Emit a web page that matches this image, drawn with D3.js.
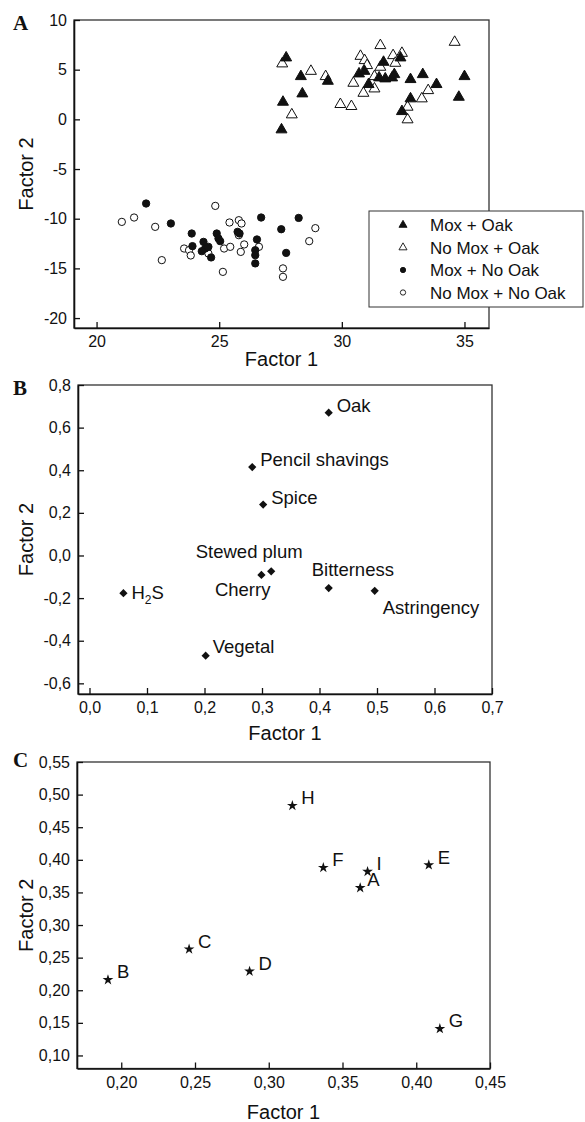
<!DOCTYPE html>
<html>
<head>
<meta charset="utf-8">
<script src="https://cdn.jsdelivr.net/npm/d3@7"></script>
<style>
body { margin: 0; background: #fff; }
svg text { font-family: "Liberation Sans", Arial, sans-serif; fill: #111; }
</style>
</head>
<body>
<svg id="chart" width="585" height="1122"></svg>
<script>
// panel A : factor scores, four treatments
var moxOak = [[27.73,6.2],[28.33,4.32],[28.39,2.58],[27.6,1.74],[27.54,-1.04],[29.43,3.85],[30.7,4.59],[30.92,4.85],
	[31.09,3.52],[31.7,5.76],[31.52,4.19],[31.77,4.09],[32.05,4.19],[32.14,4.52],[32.39,6.2],[32.8,4.02],[33.3,4.52],
	[33.86,3.52],[35.0,4.32],[34.77,2.24],[32.8,2.08],[32.45,0.8]];
var noMoxOak = [[27.57,5.6],[27.96,0.47],[28.74,4.85],[29.34,4.32],[29.94,1.51],[30.39,1.31],[30.47,3.65],[30.76,6.36],
	[30.93,5.93],[31.03,5.43],[30.88,2.64],[31.33,3.08],[31.33,4.32],[31.57,7.44],[31.57,5.26],[32.09,6.43],[32.18,5.66],
	[32.45,6.66],[32.68,1.24],[32.68,-0.03],[33.26,2.08],[33.52,2.91],[34.6,7.77]];
var moxNoOak = [[22.02,-8.47],[23.03,-10.48],[23.88,-11.49],[23.91,-12.76],[24.36,-12.33],[24.43,-13.0],[24.29,-13.27],
	[24.56,-12.83],[24.67,-13.9],[24.9,-11.49],[24.97,-11.99],[25.04,-12.26],[25.75,-11.32],[25.83,-11.49],[26.54,-12.09],
	[26.47,-13.17],[26.47,-13.67],[26.47,-14.5],[26.71,-9.88],[27.53,-11.06],[27.73,-13.44],[28.24,-9.92]];
var noMoxNoOak = [[21.03,-10.32],[21.53,-9.88],[22.39,-10.82],[22.66,-14.17],[23.57,-13.0],[23.77,-13.17],[23.84,-13.7],
	[24.56,-13.5],[24.84,-8.71],[25.15,-15.35],[25.2,-13.0],[25.45,-12.83],[25.42,-10.38],[25.8,-10.15],[25.91,-10.48],
	[25.8,-11.66],[25.88,-13.34],[26.02,-12.59],[26.62,-12.83],[27.6,-15.0],[27.6,-15.85],[28.92,-10.95],[28.67,-12.26]];
var treatmentNames = ["Mox + Oak", "No Mox + Oak", "Mox + No Oak", "No Mox + No Oak"];
var ticksAX = [20, 25, 30, 35];
var ticksAY = [-20, -15, -10, -5, 0, 5, 10];

// panel B : sensory attributes
var attrNames = ["Oak", "Pencil shavings", "Spice", "Stewed plum", "Cherry", "H2S", "Vegetal", "Bitterness", "Astringency"];
var attrF1 = [0.416, 0.283, 0.302, 0.316, 0.299, 0.059, 0.202, 0.416, 0.496];
var attrF2 = [0.67, 0.415, 0.239, -0.074, -0.091, -0.177, -0.47, -0.153, -0.166];
var ticksBX = [0, 0.1, 0.2, 0.3, 0.4, 0.5, 0.6, 0.7];
var ticksBY = [-0.6, -0.4, -0.2, 0, 0.2, 0.4, 0.6, 0.8];

// panel C : wines
var wineNames = ["A", "B", "C", "D", "E", "F", "G", "H", "I"];
var wineF1 = [0.362, 0.191, 0.246, 0.287, 0.4085, 0.337, 0.416, 0.316, 0.367];
var wineF2 = [0.357, 0.216, 0.263, 0.229, 0.392, 0.388, 0.141, 0.483, 0.382];
var ticksCX = [0.20, 0.25, 0.30, 0.35, 0.40, 0.45];
var ticksCY = [0.10, 0.15, 0.20, 0.25, 0.30, 0.35, 0.40, 0.45, 0.50, 0.55];

// label placement for panel B (dx, dy from the point, anchor)
var attrLabelPos = [[8,-1,"start"],[8,-1,"start"],[8,-1,"start"],[-22,-13,"middle"],[9,21,"end"],
	[8,6,"start"],[7,-3,"start"],[-17,-12,"start"],[8,23,"start"]];

var svg = d3.select("#chart");
var loc = d3.formatLocale({decimal: ",", thousands: ".", grouping: [3], currency: ["", ""], minus: "-"});

function makePanel(box, xDom, yDom) {
	var x = d3.scaleLinear().domain(xDom).range([box.left, box.right]);
	var y = d3.scaleLinear().domain(yDom).range([box.bottom, box.top]);
	var g = svg.append("g");
	g.append("rect")
		.attr("x", box.left).attr("y", box.top)
		.attr("width", box.right - box.left).attr("height", box.bottom - box.top)
		.attr("fill", "none").attr("stroke", "#333").attr("stroke-width", 1.3);
	return {g: g, x: x, y: y, box: box};
}

function drawAxes(p, xMajor, xMinor, yMajor, yMinor, xFmt, yFmt) {
	var gx = p.g.append("g").attr("transform", "translate(0," + p.box.bottom + ")");
	gx.call(d3.axisBottom(p.x).tickValues(xMinor).tickFormat("").tickSize(-3).tickSizeOuter(0));
	gx.call(d3.axisBottom(p.x).tickValues(xMajor).tickFormat(xFmt).tickSizeInner(-6).tickSizeOuter(0).tickPadding(8));
	var gy = p.g.append("g").attr("transform", "translate(" + p.box.left + ",0)");
	gy.call(d3.axisLeft(p.y).tickValues(yMinor).tickFormat("").tickSize(-3).tickSizeOuter(0));
	gy.call(d3.axisLeft(p.y).tickValues(yMajor).tickFormat(yFmt).tickSizeInner(-6).tickSizeOuter(0).tickPadding(7));
	p.g.selectAll(".domain").attr("stroke", "#111").attr("stroke-width", 1.6);
	p.g.selectAll(".tick line").attr("stroke", "#111").attr("stroke-width", 1.3);
	p.g.selectAll(".tick text").attr("font-size", 16).attr("fill", "#111")
		.style("font-family", "'Liberation Sans', Arial, sans-serif");
}

function titles(p, letter, letterY, titleGap) {
	var b = p.box;
	svg.append("text").attr("x", (b.left + b.right) / 2).attr("y", b.bottom + titleGap)
		.attr("text-anchor", "middle").attr("font-size", 20).text("Factor 1");
	svg.append("text").attr("transform", "translate(33," + ((b.top + b.bottom) / 2) + ") rotate(-90)")
		.attr("text-anchor", "middle").attr("font-size", 20).text("Factor 2");
	svg.append("text").attr("x", 13).attr("y", letterY)
		.attr("font-size", 21).attr("font-weight", "bold")
		.style("font-family", "'Liberation Serif', 'Times New Roman', serif").text(letter);
}

// ---------- panel A
var pA = makePanel({left: 74, right: 489, top: 20, bottom: 328}, [19.08, 36], [-21, 10]);
drawAxes(pA, ticksAX, d3.range(22.5, 36, 5), ticksAY, d3.range(-17.5, 10, 5), loc.format("d"), loc.format("d"));
titles(pA, "A", 30, 38);

var tri = d3.symbol().type(d3.symbolTriangle).size(52);
var cir = d3.symbol().type(d3.symbolCircle).size(42);
var seriesA = [
	{data: noMoxNoOak, sym: cir, fill: "#fff"},
	{data: moxNoOak, sym: cir, fill: "#111"},
	{data: noMoxOak, sym: tri, fill: "#fff"},
	{data: moxOak, sym: tri, fill: "#111"}
];
seriesA.forEach(function (s) {
	pA.g.selectAll(null).data(s.data).enter().append("path")
		.attr("d", s.sym)
		.attr("transform", function (d) { return "translate(" + pA.x(d[0]) + "," + pA.y(d[1]) + ")"; })
		.attr("fill", s.fill).attr("stroke", "#111").attr("stroke-width", 1);
});

// legend
var leg = svg.append("g");
leg.append("rect").attr("x", 369).attr("y", 211).attr("width", 214).attr("height", 96)
	.attr("fill", "#fff").attr("stroke", "#333").attr("stroke-width", 1);
var legSyms = [
	{sym: d3.symbol().type(d3.symbolTriangle).size(28), fill: "#111"},
	{sym: d3.symbol().type(d3.symbolTriangle).size(28), fill: "#fff"},
	{sym: d3.symbol().type(d3.symbolCircle).size(22), fill: "#111"},
	{sym: d3.symbol().type(d3.symbolCircle).size(22), fill: "#fff"}
];
treatmentNames.forEach(function (name, i) {
	var yy = 225 + i * 22.5;
	leg.append("path").attr("d", legSyms[i].sym).attr("transform", "translate(403," + yy + ")")
		.attr("fill", legSyms[i].fill).attr("stroke", "#111").attr("stroke-width", 0.9);
	leg.append("text").attr("x", 430).attr("y", yy + 6).attr("font-size", 17).text(name);
});

// ---------- panel B
var pB = makePanel({left: 78, right: 492, top: 385, bottom: 694}, [-0.02, 0.7], [-0.65, 0.8]);
drawAxes(pB, ticksBX, d3.range(0.05, 0.7, 0.1), ticksBY, d3.range(-0.5, 0.8, 0.2), loc.format(".1f"), loc.format(".1f"));
titles(pB, "B", 395, 46);

var dia = d3.symbol().type(d3.symbolSquare).size(34);
attrNames.forEach(function (name, i) {
	var px = pB.x(attrF1[i]), py = pB.y(attrF2[i]);
	pB.g.append("path").attr("d", dia).attr("transform", "translate(" + px + "," + py + ") rotate(45)").attr("fill", "#111");
	var lp = attrLabelPos[i];
	var t = pB.g.append("text").attr("x", px + lp[0]).attr("y", py + lp[1])
		.attr("text-anchor", lp[2]).attr("font-size", 18.5);
	if (name == "H2S") {
		t.append("tspan").text("H");
		t.append("tspan").attr("font-size", 12).attr("dy", 5).text("2");
		t.append("tspan").attr("dy", -5).text("S");
	} else {
		t.text(name);
	}
});

// ---------- panel C
var pC = makePanel({left: 77, right: 490, top: 762, bottom: 1068.5}, [0.17, 0.45], [0.08, 0.55]);
drawAxes(pC, ticksCX, d3.range(0.175, 0.45, 0.05), ticksCY, d3.range(0.125, 0.55, 0.05), loc.format(".2f"), loc.format(".2f"));
titles(pC, "C", 767, 50);

var star = d3.symbol().type(d3.symbolStar).size(36);
wineNames.forEach(function (name, i) {
	var px = pC.x(wineF1[i]), py = pC.y(wineF2[i]);
	pC.g.append("path").attr("d", star).attr("transform", "translate(" + px + "," + py + ")").attr("fill", "#111");
	pC.g.append("text").attr("x", px + (name == "A" ? 7 : 9)).attr("y", py - 1.5)
		.attr("font-size", 18.5).text(name);
});
</script>
</body>
</html>
